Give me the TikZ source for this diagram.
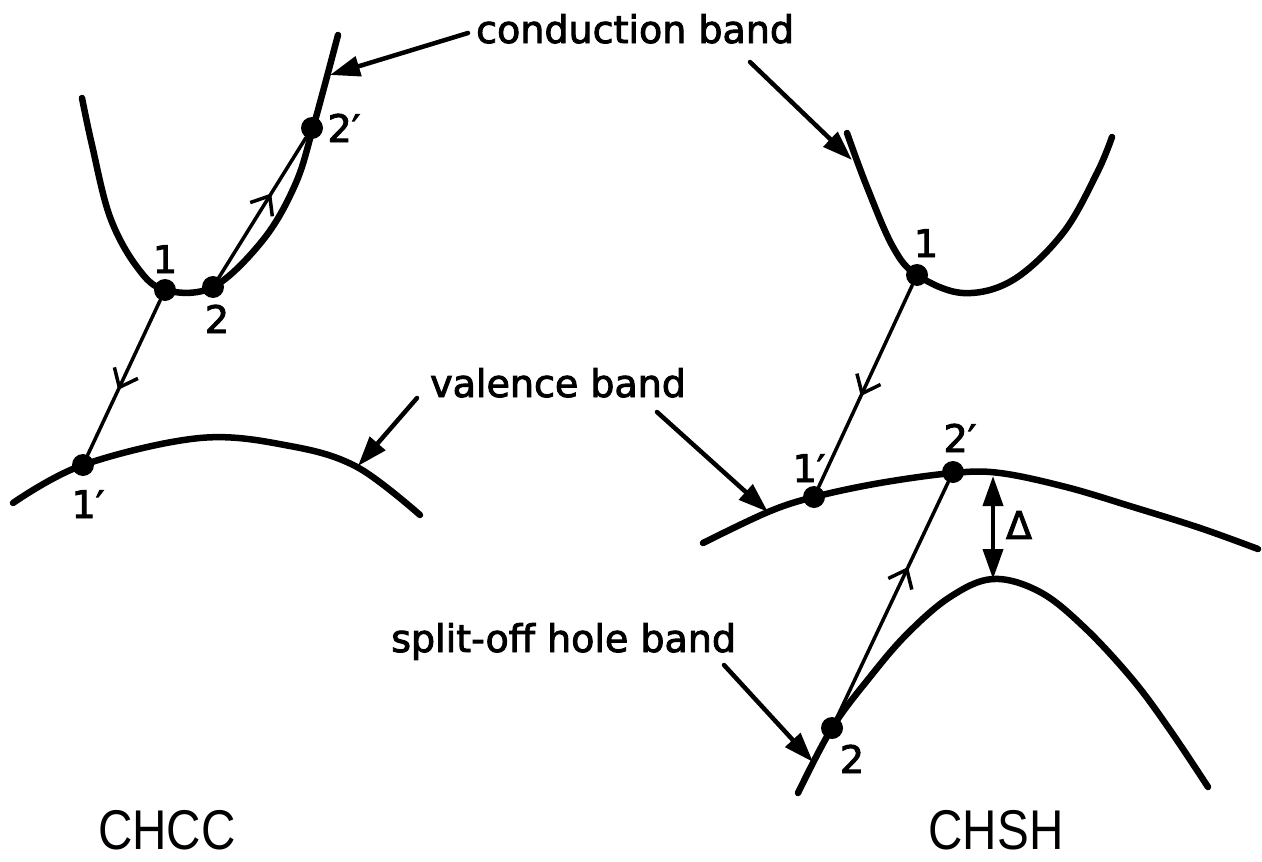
\documentclass[tikz,border=0pt]{standalone}
\usepackage{fontspec}
\newfontfamily\labfont{DejaVu Sans}[FakeBold=2.5]
\newfontfamily\bigfont{Liberation Sans}[FakeStretch=0.85]
\usetikzlibrary{arrows.meta,decorations.markings}
\begin{document}
\begin{tikzpicture}[x=1pt,y=-1pt,
  band/.style={line width=6.5pt, line cap=round, line join=round},
  trans/.style={line width=3.5pt, line cap=round},
  pointer/.style={line width=4.5pt, line cap=round, -{Triangle[length=30pt,width=20pt]}},
  gap/.style={line width=4pt, {Triangle[length=30pt,width=20pt]}-{Triangle[length=30pt,width=20pt]}},
  dot/.style={circle, fill, inner sep=0pt, minimum size=22pt},
  lab/.style={font=\labfont\fontsize{38}{40}\selectfont, inner sep=0pt},
  title/.style={font=\bigfont\fontsize{56}{60}\selectfont, inner sep=0pt},
  midarrow/.style={postaction={decorate}, decoration={markings,
     mark=at position #1 with {\arrow{Straight Barb[length=16pt,width=26pt,line width=3.5pt]}}}}
]
\useasboundingbox (0,0) rectangle (1262,862);

% ---------------- CHCC (left) ----------------
% conduction band
\draw[band] plot[smooth, tension=0.6] coordinates
  {(82,98) (92,145) (110,217) (137,267) (165,290) (213,287) (263,240) (295,185) (313,128) (338,35)};
% valence band
\draw[band] plot[smooth, tension=0.6] coordinates
  {(13,503) (83,465) (200,438) (290,446) (357,467) (420,515)};

\node[dot] (L1) at (165,290) {};
\node[dot] (L2) at (213,287) {};
\node[dot] (L2p) at (312,128) {};
\node[dot] (L1p) at (83,465) {};

\draw[trans, midarrow=0.6] (L2) -- (L2p);
\draw[trans, midarrow=0.58] (L1) -- (L1p);

\node[lab, anchor=base] (tL1) at (165,273) {1};
\node[lab, anchor=base] (tL2) at (217,333) {2};
\node[lab, anchor=base] (tL2p) at (344,142) {2′};
\node[lab, anchor=base] (tL1p) at (88,518) {1′};

% ---------------- CHSH (right) ----------------
% conduction band
\draw[band] plot[smooth, tension=0.6] coordinates
  {(847,133) (867,187) (893,247) (917,275) (963,293) (1013,280) (1063,233) (1097,173) (1112,137)};
% valence (heavy hole) band
\draw[band] plot[smooth, tension=0.6] coordinates
  {(703,543) (768,512) (814,497) (880,483) (953,473) (1000,473) (1066,487) (1133,507) (1200,528) (1258,549)};
% split-off hole band
\draw[band] plot[smooth, tension=0.6] coordinates
  {(798,793) (832,728) (870,677) (907,634) (950,597) (993,579) (1040,592) (1085,628) (1133,680) (1170,730) (1208,787)};

\node[dot] (R1) at (917,275) {};
\node[dot] (R1p) at (814,497) {};
\node[dot] (R2p) at (953,472) {};
\node[dot] (R2) at (832,728) {};

\draw[trans, midarrow=0.55] (R1) -- (R1p);
\draw[trans, midarrow=0.64] (R2) -- (R2p);

\node[lab, anchor=base] (tR1) at (926,257) {1};
\node[lab, anchor=base] (tR1p) at (809,482) {1′};
\node[lab, anchor=base] (tR2p) at (960,452) {2′};
\node[lab, anchor=base] (tR2) at (852,773) {2};

% gap Delta
\coordinate (dTop) at (993,476);
\coordinate (dBot) at (993,579);
\draw[gap] (dTop) -- (dBot);
\node[lab] (tDelta) at (1019,525) {Δ};

% ---------------- labels with pointers ----------------
\node[lab, anchor=base west] (tCB) at (476,43) {conduction band};
\node[lab, anchor=base west] (tVB) at (430,397) {valence band};
\node[lab, anchor=base west] (tSO) at (391,652) {split-off hole band};

\coordinate (cbS1) at (468,33);  \coordinate (cbE1) at (330,75);
\coordinate (cbS2) at (750,62);  \coordinate (cbE2) at (852,160);
\coordinate (vbS1) at (417,398); \coordinate (vbE1) at (358,466);
\coordinate (vbS2) at (657,412); \coordinate (vbE2) at (768,512);
\coordinate (soS) at (724,665);  \coordinate (soE) at (813,762);

\draw[pointer] (cbS1) -- (cbE1);
\draw[pointer] (cbS2) -- (cbE2);
\draw[pointer] (vbS1) -- (vbE1);
\draw[pointer] (vbS2) -- (vbE2);
\draw[pointer] (soS) -- (soE);

% ---------------- titles ----------------
\node[title, anchor=base] (tCHCC) at (167,849) {CHCC};
\node[title, anchor=base] (tCHSH) at (996,849) {CHSH};
\end{tikzpicture}
\end{document}
